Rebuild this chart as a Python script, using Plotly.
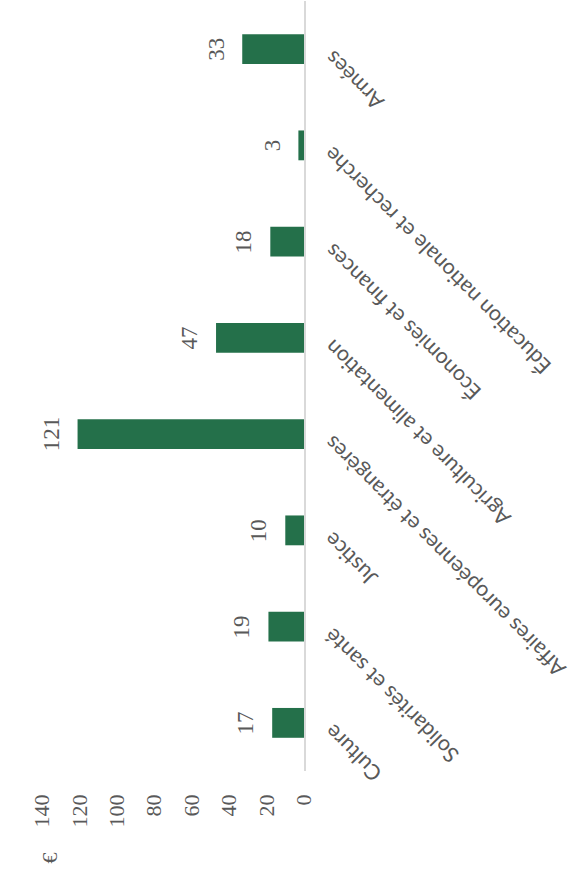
import plotly.graph_objects as go

# Budget per ministry (€)
categories = [
    "Culture",
    "Solidarités et santé",
    "Justice",
    "Affaires européennes et étrangères",
    "Agriculture et alimentation",
    "Économies et finances",
    "Éducation nationale et recherche",
    "Armées",
]
values = [17, 19, 10, 121, 47, 18, 3, 33]
tick_values = [0, 20, 40, 60, 80, 100, 120, 140]
axis_unit = "€"

GREEN = "#24704a"
GREY = "#595959"
SERIF = "Liberation Serif"
SANS = "Lato"

fig = go.Figure()
fig.add_trace(go.Bar(
    x=values,
    y=categories,
    orientation="h",
    marker=dict(color=GREEN, line=dict(width=0)),
    hoverinfo="skip",
))

# value labels next to each bar end
for cat, val in zip(categories, values):
    fig.add_annotation(
        x=val, y=cat, xref="x", yref="y",
        text=str(val), showarrow=False, textangle=-90,
        xanchor="right", yanchor="middle", xshift=-12,
        font=dict(family=SERIF, size=23, color=GREY),
    )

# slanted category labels to the right of the baseline
for cat in categories:
    fig.add_annotation(
        x=1, y=cat, xref="paper", yref="y",
        text=cat, showarrow=False, textangle=-135,
        xanchor="left", yanchor="top", xshift=12, yshift=6,
        font=dict(family=SANS, size=21.5, color=GREY),
    )

# unit label
fig.add_annotation(
    x=136, y=0, xref="x", yref="paper",
    text=axis_unit, showarrow=False, textangle=-90,
    xanchor="center", yanchor="middle", yshift=-87,
    font=dict(family=SERIF, size=22, color=GREY),
)

fig.update_layout(
    width=573, height=879,
    margin=dict(l=42, r=269, t=1, b=108, autoexpand=False),
    paper_bgcolor="white", plot_bgcolor="white",
    showlegend=False,
    bargap=0.69,
    xaxis=dict(
        range=[140, 0],
        tickvals=tick_values,
        ticktext=[str(v) for v in tick_values],
        tickangle=-90,
        ticklabelstandoff=18,
        showgrid=False, zeroline=False, showline=False,
        tickfont=dict(family=SERIF, size=22, color=GREY),
        automargin=False,
        fixedrange=True,
    ),
    yaxis=dict(
        categoryorder="array", categoryarray=categories,
        range=[-0.5, len(categories) - 0.5],
        side="right",
        showticklabels=False,
        showgrid=False, zeroline=False,
        showline=True, linecolor="#d9d9d9", linewidth=2,
        automargin=False,
        fixedrange=True,
    ),
)

fig.write_html("out.html")
